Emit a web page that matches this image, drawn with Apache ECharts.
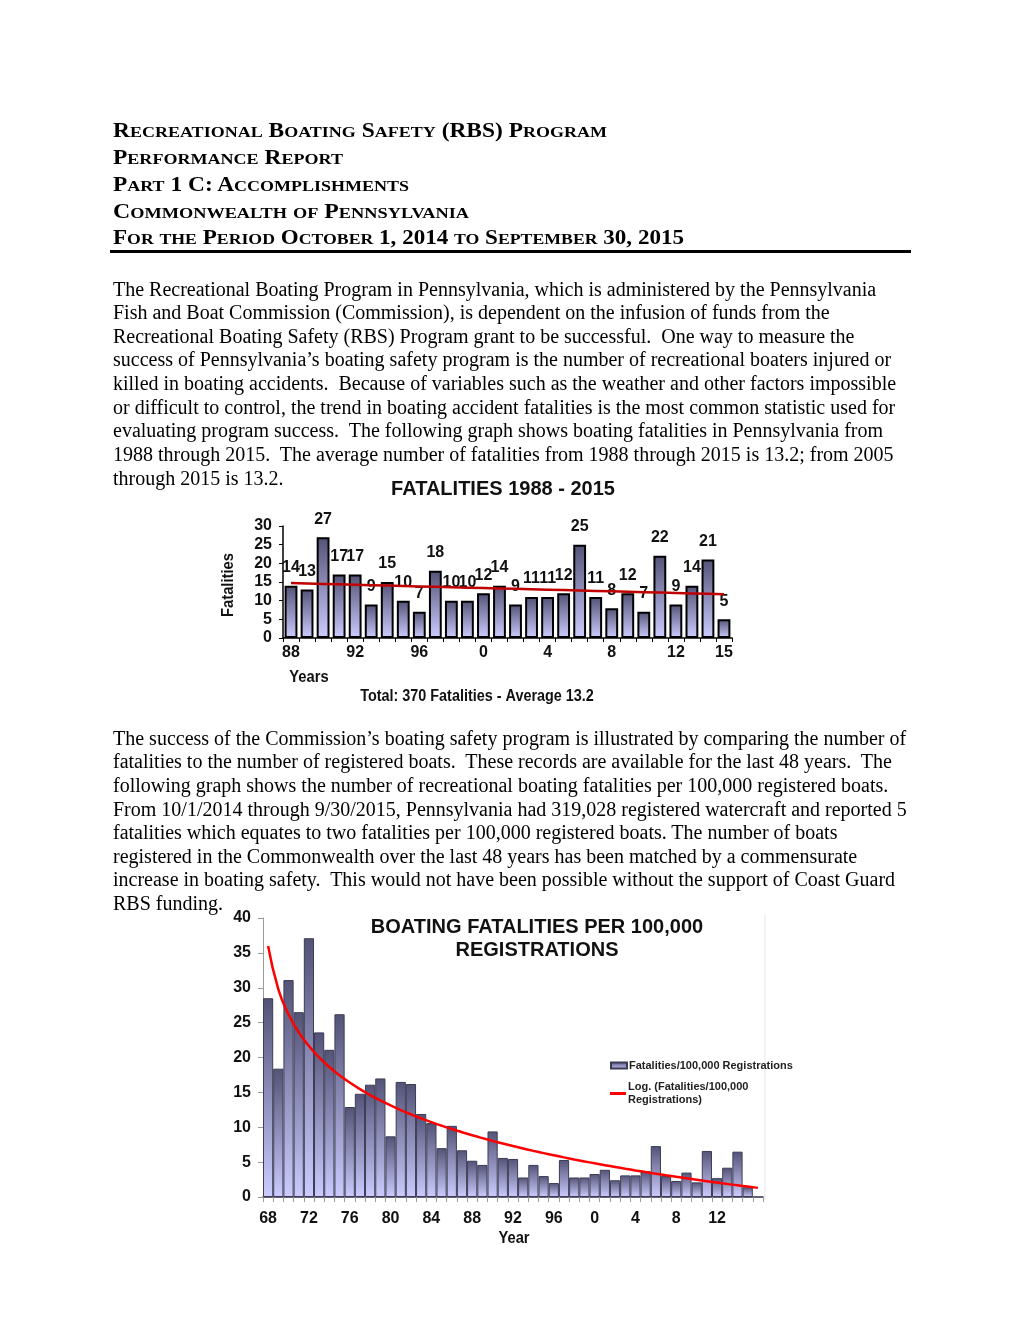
<!DOCTYPE html>
<html>
<head>
<meta charset="utf-8">
<script src="https://cdn.jsdelivr.net/npm/echarts@6/dist/echarts.min.js"></script>
<style>
  html, body { margin:0; padding:0; background:#fff; }
  #page { position:relative; width:1020px; height:1320px; background:#fff; overflow:hidden; }
  #chart { position:absolute; left:0; top:0; width:1020px; height:1320px; }
  .hd { position:absolute; left:113px; font-family:"Liberation Serif","Times New Roman",serif; font-weight:bold; font-size:20px; line-height:24px; white-space:pre; color:#000; transform-origin:0 50%; }
  .hd .sc { font-size:15.4px; }
  .ln { position:absolute; left:113px; font-family:"Liberation Serif","Times New Roman",serif; font-size:20px; line-height:24px; white-space:pre; color:#000; }
  #rule { position:absolute; left:110px; top:250px; width:801px; height:3px; background:#000; }
</style>
</head>
<body>
<div id="page">
  <div id="chart"></div>
  <div class="hd" data-w="494" style="top:118px">Recreational Boating Safety (RBS) Program</div>
  <div class="hd" data-w="230" style="top:145px">Performance Report</div>
  <div class="hd" data-w="296" style="top:172px">Part 1 C: Accomplishments</div>
  <div class="hd" data-w="356" style="top:199px">Commonwealth of Pennsylvania</div>
  <div class="hd" data-w="571" style="top:225px">For the Period October 1, 2014 to September 30, 2015</div>
  <div id="rule"></div>

  <div class="ln" style="top:277px">The Recreational Boating Program in Pennsylvania, which is administered by the Pennsylvania</div>
  <div class="ln" style="top:300px">Fish and Boat Commission (Commission), is dependent on the infusion of funds from the</div>
  <div class="ln" style="top:324px">Recreational Boating Safety (RBS) Program grant to be successful.  One way to measure the</div>
  <div class="ln" style="top:347px">success of Pennsylvania’s boating safety program is the number of recreational boaters injured or</div>
  <div class="ln" style="top:371px">killed in boating accidents.  Because of variables such as the weather and other factors impossible</div>
  <div class="ln" style="top:395px">or difficult to control, the trend in boating accident fatalities is the most common statistic used for</div>
  <div class="ln" style="top:418px">evaluating program success.  The following graph shows boating fatalities in Pennsylvania from</div>
  <div class="ln" style="top:442px">1988 through 2015.  The average number of fatalities from 1988 through 2015 is 13.2; from 2005</div>
  <div class="ln" style="top:466px">through 2015 is 13.2.</div>

  <div class="ln" style="top:726px">The success of the Commission’s boating safety program is illustrated by comparing the number of</div>
  <div class="ln" style="top:749px">fatalities to the number of registered boats.  These records are available for the last 48 years.  The</div>
  <div class="ln" style="top:773px">following graph shows the number of recreational boating fatalities per 100,000 registered boats.</div>
  <div class="ln" style="top:797px">From 10/1/2014 through 9/30/2015, Pennsylvania had 319,028 registered watercraft and reported 5</div>
  <div class="ln" style="top:820px">fatalities which equates to two fatalities per 100,000 registered boats. The number of boats</div>
  <div class="ln" style="top:844px">registered in the Commonwealth over the last 48 years has been matched by a commensurate</div>
  <div class="ln" style="top:867px">increase in boating safety.  This would not have been possible without the support of Coast Guard</div>
  <div class="ln" style="top:891px">RBS funding.</div>
</div>
<script>
// small-caps header lines, fitted to the reference line widths
document.querySelectorAll('.hd').forEach(el => {
  const t = el.textContent;
  el.innerHTML = t.replace(/[a-z’]+/g, m => '<span class="sc">' + m.toUpperCase() + '</span>');
  const w = el.getBoundingClientRect().width;
  el.style.transform = 'scaleX(' + (Number(el.dataset.w) / w) + ')';
});

// ---------- Chart 1: Fatalities 1988 - 2015 ----------
const years1 = [1988,1989,1990,1991,1992,1993,1994,1995,1996,1997,1998,1999,2000,2001,
                2002,2003,2004,2005,2006,2007,2008,2009,2010,2011,2012,2013,2014,2015];
const fatalities = [14,13,27,17,17,9,15,10,7,18,10,10,12,14,9,11,11,12,25,11,8,12,7,22,9,14,21,5];
const yTicks1 = [0,5,10,15,20,25,30];

// ---------- Chart 2: Fatalities per 100,000 registrations ----------
const years2 = [1968,1969,1970,1971,1972,1973,1974,1975,1976,1977,1978,1979,1980,1981,1982,1983,
                1984,1985,1986,1987,1988,1989,1990,1991,1992,1993,1994,1995,1996,1997,1998,1999,
                2000,2001,2002,2003,2004,2005,2006,2007,2008,2009,2010,2011,2012,2013,2014,2015,2016];
const ratePer100k = [28.5,18.4,31.1,26.5,37.1,23.6,21.1,26.2,12.9,14.8,16.1,17.0,8.7,16.5,16.2,11.9,
                     10.6,7.0,10.2,6.7,5.2,4.6,9.4,5.6,5.45,2.8,4.6,3.0,2.0,5.3,2.8,2.8,
                     3.3,3.9,2.4,3.1,3.1,3.7,7.3,3.0,2.3,3.5,2.1,6.6,2.7,4.2,6.5,1.4,null];
const yTicks2 = [0,5,10,15,20,25,30,35,40];

// linear trend (least squares) over the observed values
function linearTrend(ys) {
  const n = ys.length; let sx=0, sy=0, sxx=0, sxy=0;
  ys.forEach((y,i)=>{ sx+=i; sy+=y; sxx+=i*i; sxy+=i*y; });
  const b = (n*sxy - sx*sy)/(n*sxx - sx*sx); const a = (sy - b*sx)/n;
  return ys.map((_,i)=> +(a + b*i).toFixed(3));
}
// logarithmic trend (least squares on ln x), evaluated over all categories
function logTrend(ys) {
  const pts = ys.map((y,i)=>[Math.log(i+1), y]).filter(p=>p[1]!==null);
  const n = pts.length; let sx=0, sy=0, sxx=0, sxy=0;
  pts.forEach(([x,y])=>{ sx+=x; sy+=y; sxx+=x*x; sxy+=x*y; });
  const b = (n*sxy - sx*sy)/(n*sxx - sx*sx); const a = (sy - b*sx)/n;
  return ys.map((_,i)=> +(a + b*Math.log(i+1)).toFixed(3));
}

const SANS = '"Liberation Sans",Arial,sans-serif';

const grad1 = new echarts.graphic.LinearGradient(0,0,0,1,[{offset:0,color:'#535377'},{offset:1,color:'#ccccff'}]);
const grad2 = new echarts.graphic.LinearGradient(0,0,0,1,[{offset:0,color:'#535377'},{offset:1,color:'#cbcbff'}]);

const chart = echarts.init(document.getElementById('chart'), null, {renderer:'canvas'});
chart.setOption({
  animation:false,
  backgroundColor:'transparent',
  grid:[
    {left:283, top:526, width:449, height:112, containLabel:false},
    {left:263, top:918, width:500, height:279, containLabel:false}
  ],
  xAxis:[
    {gridIndex:0, type:'category', data:years1, boundaryGap:true,
     axisLine:{lineStyle:{color:'#000', width:1.5}},
     axisTick:{show:true, interval:0, length:4, lineStyle:{color:'#000'}},
     axisLabel:{interval:(i)=> i%4===0 || i===years1.length-1, margin:7,
       formatter:(v)=> String(Number(v)%100), fontFamily:SANS, fontWeight:'bold', fontSize:16, color:'#111'}},
    {gridIndex:1, type:'category', data:years2, boundaryGap:true,
     axisLine:{lineStyle:{color:'#303048', width:1.5}},
     axisTick:{show:true, interval:0, length:5, lineStyle:{color:'#9a9a9a'}},
     axisLabel:{interval:(i)=> i%4===0 && i<years2.length-1, margin:14,
       formatter:(v)=> String(Number(v)%100), fontFamily:SANS, fontWeight:'bold', fontSize:16, color:'#111'}}
  ],
  yAxis:[
    {gridIndex:0, type:'value', min:yTicks1[0], max:yTicks1[yTicks1.length-1], interval:5,
     axisLine:{show:true, lineStyle:{color:'#000', width:1.5}},
     axisTick:{show:true, length:4, lineStyle:{color:'#000'}},
     splitLine:{show:false},
     axisLabel:{margin:11, fontFamily:SANS, fontWeight:'bold', fontSize:16, color:'#111'}},
    {gridIndex:1, type:'value', min:yTicks2[0], max:yTicks2[yTicks2.length-1], interval:5,
     axisLine:{show:true, lineStyle:{color:'#9a9a9a', width:1}},
     axisTick:{show:true, length:5, lineStyle:{color:'#9a9a9a'}},
     splitLine:{show:false},
     axisLabel:{margin:12, fontFamily:SANS, fontWeight:'bold', fontSize:16, color:'#111'}}
  ],
  legend:[
    {data:[{name:'Fatalities/100,000 Registrations', icon:'rect'}], left:610, top:1060, orient:'vertical',
     padding:0, itemWidth:16, itemHeight:6, itemGap:4,
     textStyle:{fontFamily:SANS, fontWeight:'bold', fontSize:11, color:'#222', padding:[0,0,0,-3]}},
    {data:[{name:'Log. (Fatalities/100,000 Registrations)', icon:'rect', itemStyle:{color:'#ff0000'}}],
     left:610, top:1074, orient:'vertical', padding:0,
     itemWidth:16, itemHeight:3,
     formatter:()=> 'Log. (Fatalities/100,000\nRegistrations)',
     textStyle:{fontFamily:SANS, fontWeight:'bold', fontSize:11, lineHeight:13, color:'#222', padding:[13,0,0,-3]}}
  ],
  series:[
    {type:'bar', xAxisIndex:0, yAxisIndex:0, data:fatalities, barCategoryGap:'20%',
     itemStyle:{color:grad1, borderColor:'#000', borderWidth:2},
     label:{show:true, position:'top', distance:10, fontFamily:SANS, fontWeight:'bold', fontSize:16, color:'#111'}},
    {type:'line', xAxisIndex:0, yAxisIndex:0, data:linearTrend(fatalities), symbol:'none',
     lineStyle:{color:'#c00000', width:2.5}, z:5},
    {name:'Fatalities/100,000 Registrations', type:'bar', xAxisIndex:1, yAxisIndex:1, data:ratePer100k, barCategoryGap:'0%',
     itemStyle:{color:grad2, borderColor:'#3c3c55', borderWidth:1}},
    {name:'Log. (Fatalities/100,000 Registrations)', type:'line', xAxisIndex:1, yAxisIndex:1, data:logTrend(ratePer100k),
     symbol:'none', smooth:true, lineStyle:{color:'#ff0000', width:2.5}, z:5}
  ],
  graphic:[
    {type:'text', x:503, y:489, style:{text:'FATALITIES 1988 - 2015', x:0, y:0, align:'center', verticalAlign:'middle',
      font:'bold 20px '+SANS, fill:'#111'}},
    {type:'text', x:229, y:585, rotation:Math.PI/2, scaleX:0.92,
      style:{text:'Fatalities', x:0, y:0, align:'center', verticalAlign:'middle', font:'bold 16px '+SANS, fill:'#111'}},
    {type:'text', x:309, y:678, scaleX:0.92,
      style:{text:'Years', x:0, y:0, align:'center', verticalAlign:'middle', font:'bold 16px '+SANS, fill:'#111'}},
    {type:'text', x:477, y:697, scaleX:0.9,
      style:{text:'Total: 370 Fatalities - Average 13.2', x:0, y:0, align:'center', verticalAlign:'middle', font:'bold 16px '+SANS, fill:'#111'}},
    {type:'text', x:537, y:927,
      style:{text:'BOATING FATALITIES PER 100,000', x:0, y:0, align:'center', verticalAlign:'middle', font:'bold 20px '+SANS, fill:'#111'}},
    {type:'text', x:537, y:950,
      style:{text:'REGISTRATIONS', x:0, y:0, align:'center', verticalAlign:'middle', font:'bold 20px '+SANS, fill:'#111'}},
    {type:'text', x:514, y:1239, scaleX:0.92,
      style:{text:'Year', x:0, y:0, align:'center', verticalAlign:'middle', font:'bold 16px '+SANS, fill:'#111'}},
    {type:'line', shape:{x1:765, y1:915, x2:765, y2:1200}, style:{stroke:'#e6e6e6', lineWidth:1}}
  ]
});
</script>
</body>
</html>
